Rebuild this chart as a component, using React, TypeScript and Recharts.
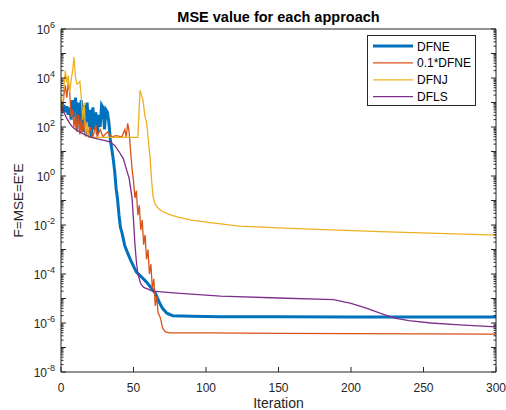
import { Line, LineChart, XAxis, YAxis } from "recharts";

// values are log10(MSE); plotted on a linear axis of exponents
const dfneIter = [
	0, 1, 2, 3, 4, 5, 6, 7, 8, 9, 10, 11, 12, 13, 14, 15, 16, 17, 18, 19, 20, 21, 22, 23, 24, 25, 26, 27, 28, 29,
	30, 31, 32, 33, 34, 35, 36, 37, 38, 39, 40, 41, 42, 44, 46, 48, 52, 56, 59, 62, 65, 68, 70, 73, 77, 90, 110,
	150, 200, 250, 300,
];
const dfneLog = [
	2.85, 2.7, 2.9, 2.6, 2.85, 2.5, 2.8, 2.3, 3.1, 2.4, 3.2, 1.9, 3.0, 2.1, 3.1, 1.8, 2.9, 1.7, 3.0, 2.0, 2.7, 1.6,
	2.8, 1.9, 2.6, 1.7, 2.5, 2.0, 2.9, 2.8, 1.9, 2.7, 2.6, 2.2, 1.5, 1.1, 0.7, 0.2, -0.5, -0.95, -1.6, -2.1, -2.3,
	-2.85, -3.15, -3.43, -3.92, -4.15, -4.33, -4.55, -4.78, -5.18, -5.4, -5.6, -5.7, -5.72, -5.74, -5.74, -5.75,
	-5.75, -5.76,
];

const dfne01Iter = [
	0, 1, 2, 3, 4, 5, 6, 7, 8, 9, 10, 11, 12, 13, 14, 15, 16, 17, 18, 19, 20, 22, 24, 25, 27, 29, 32, 35, 38, 42,
	44, 45, 46, 47, 48, 49, 50, 51, 52, 53, 54, 55, 56, 57, 58, 59, 60, 61, 62, 63, 64, 65, 66, 67, 68, 69, 70, 72,
	75, 100, 150, 200, 250, 300,
];
const dfne01Log = [
	3.1, 2.6, 3.3, 3.7, 3.2, 3.8, 3.4, 2.4, 2.7, 2.0, 2.6, 1.8, 2.5, 1.7, 2.4, 1.8, 2.3, 1.6, 2.2, 1.6, 2.0, 1.6,
	2.1, 1.6, 1.9, 1.6, 1.8, 1.6, 1.65, 1.6, 1.9, 1.6, 2.15, 1.8, 1.0, 0.3, -0.2, -0.9, -0.6, -1.6, -1.2, -2.2,
	-1.8, -2.8, -2.4, -3.4, -3.0, -4.0, -3.6, -4.6, -4.2, -5.3, -4.9, -5.6, -5.7, -5.9, -6.2, -6.36, -6.4, -6.4,
	-6.42, -6.43, -6.44, -6.45,
];

const dfnjIter = [
	0, 1, 2, 3, 4, 5, 6, 7, 8, 9, 10, 11, 12, 13, 14, 15, 16, 17, 18, 19, 53, 54.5, 55.5, 56.5, 58, 59, 60, 61.5,
	62.5, 63.5, 65, 67, 70, 75, 80, 90, 100, 123, 150, 186, 220, 254, 300,
];
const dfnjLog = [
	2.9, 2.8, 3.6, 4.3, 3.8, 4.1, 3.4, 3.9, 4.3, 4.85, 4.0, 3.75, 3.8, 3.85, 3.2, 2.3, 3.0, 1.7, 2.2, 1.58, 1.58,
	3.5, 3.3, 3.1, 2.4, 2.2, 1.6, 0.7, -0.2, -0.85, -1.15, -1.32, -1.45, -1.58, -1.67, -1.8, -1.88, -2.05, -2.12,
	-2.2, -2.27, -2.33, -2.41,
];

const dflsIter = [
	0, 2, 4, 6, 8, 10, 13, 16, 20, 25, 30, 34, 37, 40, 43, 45, 47, 49, 50, 51, 52, 53, 55, 57, 60, 63, 80, 110, 150,
	188, 200, 210, 220, 230, 240, 255, 275, 300,
];
const dflsLog = [
	2.85, 2.6, 2.35, 2.15, 2.0, 1.9, 1.8, 1.7, 1.6, 1.52, 1.45, 1.38, 1.25, 1.0, 0.7, 0.3, -0.1, -0.9, -1.8, -2.8,
	-3.5, -4.0, -4.4, -4.55, -4.62, -4.7, -4.78, -4.9, -4.98, -5.05, -5.2, -5.38, -5.6, -5.8, -5.9, -6.0, -6.08,
	-6.16,
];

const xTicks = [0, 50, 100, 150, 200, 250, 300];
const yTickExponents = [-8, -7, -6, -5, -4, -3, -2, -1, 0, 1, 2, 3, 4, 5];
const yTickMantissas = [1, 2, 3, 4, 5, 6, 7, 8, 9];

const W = 506;
const H = 410;
const LEFT = 61;
const RIGHT = 496;
const TOP = 29;
const BOTTOM = 372;
const INK = "#262626";
const FONT = "'Liberation Sans', Arial, sans-serif";

const toPoints = (iters: number[], logs: number[]) => iters.map((it, i) => ({ it, lg: logs[i] }));

const series = [
	{ name: "DFNE", color: "#0072BD", width: 3, data: toPoints(dfneIter, dfneLog) },
	{ name: "0.1*DFNE", color: "#D95319", width: 1.3, data: toPoints(dfne01Iter, dfne01Log) },
	{ name: "DFNJ", color: "#EDB120", width: 1.3, data: toPoints(dfnjIter, dfnjLog) },
	{ name: "DFLS", color: "#7E2F8E", width: 1.3, data: toPoints(dflsIter, dflsLog) },
];

const yTicks = [...yTickExponents.flatMap((e) => yTickMantissas.map((m) => e + Math.log10(m))), 6];

const decadeOf = (v: number) => {
	const e = Math.round(v);
	return Math.abs(v - e) < 1e-6 ? e : null;
};

const BottomTick = (props: any) => {
	const { x, payload } = props;
	return (
		<g>
			<line x1={x} x2={x} y1={BOTTOM} y2={BOTTOM - 5} stroke={INK} />
			<text x={x} y={392} textAnchor="middle" fontSize={12} fill={INK} fontFamily={FONT}>
				{payload.value}
			</text>
		</g>
	);
};

const TopTick = (props: any) => {
	const { x } = props;
	return <line x1={x} x2={x} y1={TOP} y2={TOP + 5} stroke={INK} />;
};

const LeftTick = (props: any) => {
	const { y, payload } = props;
	const e = decadeOf(payload.value);
	const len = e === null ? 2.5 : 5;
	return (
		<g>
			<line x1={LEFT} x2={LEFT + len} y1={y} y2={y} stroke={INK} />
			{e !== null && e % 2 === 0 ? (
				<text x={LEFT - 6} y={y + 5} textAnchor="end" fontSize={12} fill={INK} fontFamily={FONT}>
					<tspan>10</tspan>
					<tspan dy={-6} fontSize={9}>
						{e}
					</tspan>
				</text>
			) : null}
		</g>
	);
};

const RightTick = (props: any) => {
	const { y, payload } = props;
	const len = decadeOf(payload.value) === null ? 2.5 : 5;
	return <line x1={RIGHT} x2={RIGHT - len} y1={y} y2={y} stroke={INK} />;
};

export default function App() {
	return (
		<div style={{ position: "fixed", left: 0, top: 0, width: W, height: H, background: "#fff" }}>
			<LineChart width={W} height={H} margin={{ top: 19, right: 0, bottom: 0, left: 0 }}>
				<XAxis
					dataKey="it"
					type="number"
					domain={[0, 300]}
					ticks={xTicks}
					interval={0}
					height={38}
					tickSize={0}
					tick={<BottomTick />}
					axisLine={{ stroke: INK }}
					allowDataOverflow
				/>
				<XAxis
					xAxisId="top"
					orientation="top"
					dataKey="it"
					type="number"
					domain={[0, 300]}
					ticks={xTicks}
					interval={0}
					height={10}
					tickSize={0}
					tick={<TopTick />}
					axisLine={{ stroke: INK }}
				/>
				<YAxis
					type="number"
					domain={[-8, 6]}
					ticks={yTicks}
					interval={0}
					width={61}
					tickSize={0}
					tick={<LeftTick />}
					axisLine={{ stroke: INK }}
					allowDataOverflow
				/>
				<YAxis
					yAxisId="right"
					orientation="right"
					type="number"
					domain={[-8, 6]}
					ticks={yTicks}
					interval={0}
					width={10}
					tickSize={0}
					tick={<RightTick />}
					axisLine={{ stroke: INK }}
					allowDataOverflow
				/>
				{series.map((s) => (
					<Line
						key={s.name}
						data={s.data}
						dataKey="lg"
						name={s.name}
						type="linear"
						stroke={s.color}
						strokeWidth={s.width}
						dot={false}
						activeDot={false}
						isAnimationActive={false}
					/>
				))}
			</LineChart>
			<svg
				width={W}
				height={H}
				style={{ position: "absolute", left: 0, top: 0, pointerEvents: "none" }}
				fontFamily={FONT}
			>
				<text x={(LEFT + RIGHT) / 2} y={22} textAnchor="middle" fontSize={14.5} fontWeight="bold" fill="#000">
					MSE value for each approach
				</text>
				<text x={(LEFT + RIGHT) / 2} y={408} textAnchor="middle" fontSize={14} fill={INK}>
					Iteration
				</text>
				<text
					x={23}
					y={(TOP + BOTTOM) / 2}
					textAnchor="middle"
					fontSize={13.5}
					fill={INK}
					transform={`rotate(-90 23 ${(TOP + BOTTOM) / 2})`}
				>
					F=MSE=E'E
				</text>
				<g transform="translate(367 35)">
					<rect x={0.5} y={0.5} width={108} height={70} fill="#fff" stroke={INK} />
					{series.map((s, i) => (
						<g key={s.name}>
							<line
								x1={6}
								x2={46}
								y1={11 + i * 16.9}
								y2={11 + i * 16.9}
								stroke={s.color}
								strokeWidth={s.width}
							/>
							<text x={50} y={15.5 + i * 16.9} fontSize={12} fill="#000">
								{s.name}
							</text>
						</g>
					))}
				</g>
			</svg>
		</div>
	);
}
